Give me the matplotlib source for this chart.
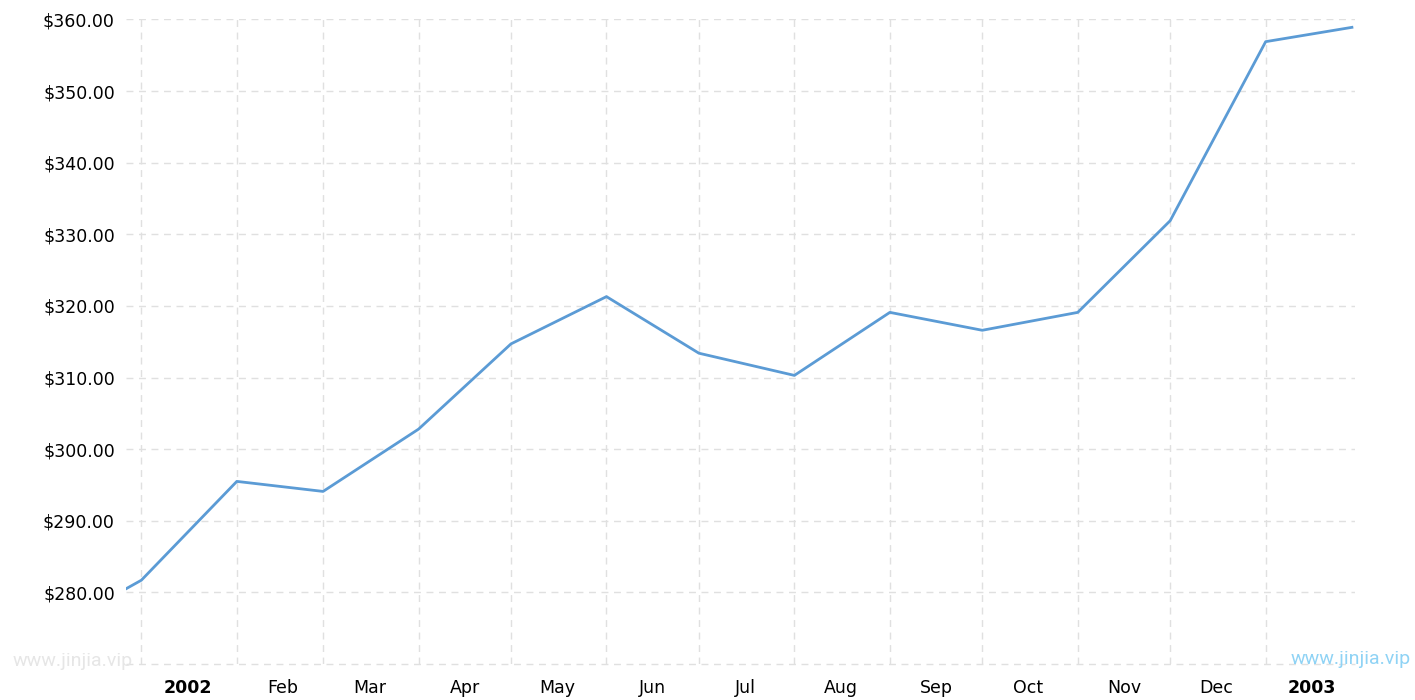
import numpy as np
import matplotlib
matplotlib.use('Agg')
import matplotlib.pyplot as plt
import matplotlib.dates as mdates
import matplotlib.ticker as mticker
import pandas as pd

# monthly price readings (first / last points sit at the chart edges)
dates = ['2001-12-27', '2002-01-01', '2002-02-01', '2002-03-01', '2002-04-01', '2002-05-01',
         '2002-06-01', '2002-07-01', '2002-08-01', '2002-09-01', '2002-10-01', '2002-11-01',
         '2002-12-01', '2003-01-01', '2003-01-29']
prices = [280.5, 281.7, 295.5, 294.1, 302.8, 314.7, 321.3, 313.4, 310.3, 319.1, 316.6, 319.1,
          331.9, 356.9, 358.9]

month_labels = ['2002', 'Feb', 'Mar', 'Apr', 'May', 'Jun', 'Jul', 'Aug', 'Sep', 'Oct', 'Nov', 'Dec', '2003']
y_ticks = [280, 290, 300, 310, 320, 330, 340, 350, 360]

x = pd.to_datetime(dates)
month_starts = pd.date_range('2002-01-01', '2003-01-01', freq='MS')
mid_months = month_starts + pd.Timedelta(days=15)

fig = plt.figure(figsize=(14.15, 7), dpi=100)
ax = fig.add_axes([0.089, 0.0514, 0.8686, 0.9208])

ax.plot(x, prices, color='#5b9bd5', linewidth=2)

ax.set_xlim(pd.Timestamp('2001-12-27'), pd.Timestamp('2003-01-30'))
ax.set_ylim(270, 360)

ax.set_xticks(month_starts)
ax.set_xticklabels([])
ax.set_xticks(mid_months, minor=True)
ax.set_xticklabels(month_labels, minor=True)
for lbl in ax.get_xticklabels(minor=True):
    if lbl.get_text() in ('2002', '2003'):
        lbl.set_fontweight('bold')

ax.set_yticks(y_ticks)
ax.yaxis.set_major_formatter(mticker.FuncFormatter(lambda v, p: f'${v:.2f}'))

ax.tick_params(axis='both', which='both', length=0, labelsize=12.5, colors='black')
ax.tick_params(axis='x', which='minor', pad=10.5)
ax.tick_params(axis='y', pad=8)

ax.grid(True, which='major', color='#e0e0e0', linestyle=(0, (5, 4)), linewidth=1)
for s in ax.spines.values():
    s.set_visible(False)
# bottom line of grid at axis floor
ax.axhline(270, color='#e0e0e0', linestyle=(0, (5, 4)), linewidth=1, clip_on=False)

fig.text(0.009, 0.056, 'www.jinjia.vip', fontsize=14, color='#e6e6e6', family='Roboto',
         va='center', stretch='condensed')
fig.text(0.997, 0.058, 'www.jinjia.vip', fontsize=14, color='#8fd3f5', family='Roboto',
         va='center', ha='right', stretch='condensed')

fig.savefig('out.png', dpi=100)
